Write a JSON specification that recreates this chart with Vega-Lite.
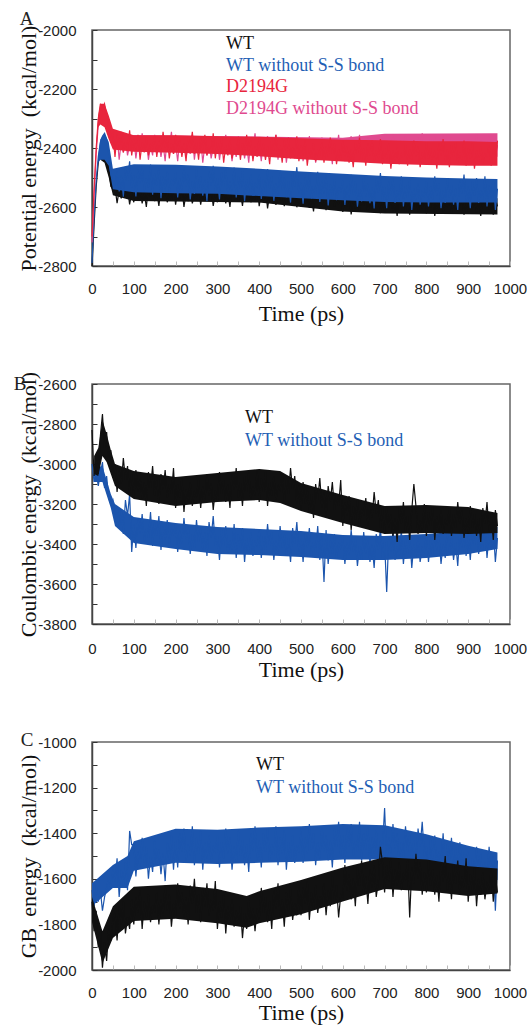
{
"$schema":"https://vega.github.io/schema/vega-lite/v6.json",
"padding":{"left":12,"top":9,"right":5,"bottom":5},
"background":"white",
"config":{
"view":{"stroke":"#666666","strokeWidth":1.5},
"axis":{"labelFont":"Liberation Sans","labelFontSize":15,"labelColor":"#222222","labelOverlap":false,"labelFlush":false,"titleFont":"Liberation Serif","titleFontWeight":"normal","titleColor":"#111111","titleFontSize":22,"grid":false,"domainColor":"#444444","domainWidth":1.5,"tickSize":-5,"tickWidth":1}
},
"datasets":{
"pa":[
{"t":0,"a":-2800,"b":-2790,"c":-2700,"d":-2720},{"t":5,"a":-2660,"b":-2630,"c":-2540,"d":-2560},{"t":10,"a":-2530,"b":-2510,"c":-2400,"d":-2420},{"t":15,"a":-2450,"b":-2430,"c":-2300,"d":-2320},{"t":20,"a":-2400,"b":-2380,"c":-2250,"d":-2270},{"t":25,"a":-2390,"b":-2360,"c":-2270,"d":-2260},{"t":30,"a":-2370,"b":-2350,"c":-2250,"d":-2280},{"t":35,"a":-2400,"b":-2370,"c":-2290,"d":-2300},{"t":40,"a":-2470,"b":-2420,"c":-2330,"d":-2340},{"t":45,"a":-2530,"b":-2490,"c":-2360,"d":-2380},{"t":50,"a":-2540,"b":-2510,"c":-2350,"d":-2370},
{"t":55,"a":-2531,"b":-2523,"c":-2430,"d":-2405},{"t":60,"a":-2587,"b":-2481,"c":-2355,"d":-2355},{"t":65,"a":-2543,"b":-2547,"c":-2395,"d":-2440},{"t":70,"a":-2571,"b":-2493,"c":-2345,"d":-2380},{"t":75,"a":-2519,"b":-2565,"c":-2415,"d":-2415},{"t":80,"a":-2563,"b":-2463,"c":-2380,"d":-2365},{"t":85,"a":-2535,"b":-2511,"c":-2405,"d":-2425},{"t":90,"a":-2591,"b":-2445,"c":-2340,"d":-2390},{"t":95,"a":-2551,"b":-2535,"c":-2425,"d":-2400},
{"t":100,"a":-2584,"b":-2492,"c":-2370,"d":-2365},{"t":105,"a":-2528,"b":-2564,"c":-2405,"d":-2435},{"t":110,"a":-2572,"b":-2474,"c":-2355,"d":-2380},{"t":115,"a":-2544,"b":-2522,"c":-2440,"d":-2415},{"t":120,"a":-2588,"b":-2462,"c":-2380,"d":-2350},{"t":125,"a":-2552,"b":-2546,"c":-2415,"d":-2405},{"t":130,"a":-2600,"b":-2504,"c":-2365,"d":-2370},{"t":135,"a":-2532,"b":-2534,"c":-2425,"d":-2440},{"t":140,"a":-2564,"b":-2456,"c":-2390,"d":-2390},{"t":145,"a":-2520,"b":-2558,"c":-2400,"d":-2425},
{"t":150,"a":-2580,"b":-2486,"c":-2360,"d":-2355},{"t":155,"a":-2548,"b":-2528,"c":-2430,"d":-2410},{"t":160,"a":-2596,"b":-2468,"c":-2375,"d":-2375},{"t":165,"a":-2536,"b":-2570,"c":-2410,"d":-2430},{"t":170,"a":-2568,"b":-2498,"c":-2345,"d":-2385},{"t":175,"a":-2528,"b":-2540,"c":-2400,"d":-2445},{"t":180,"a":-2584,"b":-2480,"c":-2365,"d":-2360},{"t":185,"a":-2556,"b":-2552,"c":-2435,"d":-2400},{"t":190,"a":-2576,"b":-2510,"c":-2385,"d":-2345},{"t":195,"a":-2524,"b":-2522,"c":-2420,"d":-2420},
{"t":200,"a":-2592,"b":-2484,"c":-2355,"d":-2385},{"t":205,"a":-2544,"b":-2568,"c":-2410,"d":-2445},{"t":210,"a":-2572,"b":-2502,"c":-2375,"d":-2370},{"t":215,"a":-2532,"b":-2544,"c":-2430,"d":-2410},{"t":220,"a":-2600,"b":-2466,"c":-2385,"d":-2360},{"t":225,"a":-2552,"b":-2532,"c":-2445,"d":-2430},{"t":230,"a":-2580,"b":-2490,"c":-2360,"d":-2395},{"t":235,"a":-2540,"b":-2574,"c":-2400,"d":-2420},{"t":240,"a":-2588,"b":-2514,"c":-2345,"d":-2355},{"t":245,"a":-2560,"b":-2556,"c":-2420,"d":-2440},
{"t":250,"a":-2568,"b":-2472,"c":-2380,"d":-2380},{"t":255,"a":-2536,"b":-2538,"c":-2440,"d":-2415},{"t":260,"a":-2592,"b":-2496,"c":-2365,"d":-2365},{"t":265,"a":-2548,"b":-2562,"c":-2405,"d":-2450},{"t":270,"a":-2576,"b":-2508,"c":-2355,"d":-2390},{"t":275,"a":-2524,"b":-2580,"c":-2425,"d":-2425},{"t":280,"a":-2568,"b":-2478,"c":-2390,"d":-2375},{"t":285,"a":-2540,"b":-2526,"c":-2415,"d":-2435},{"t":290,"a":-2596,"b":-2460,"c":-2350,"d":-2400},{"t":295,"a":-2556,"b":-2550,"c":-2435,"d":-2410},
{"t":300,"a":-2584,"b":-2502,"c":-2380,"d":-2370},{"t":305,"a":-2528,"b":-2574,"c":-2415,"d":-2440},{"t":310,"a":-2572,"b":-2484,"c":-2365,"d":-2385},{"t":315,"a":-2544,"b":-2532,"c":-2450,"d":-2420},{"t":320,"a":-2588,"b":-2472,"c":-2390,"d":-2355},{"t":325,"a":-2552,"b":-2556,"c":-2425,"d":-2410},{"t":330,"a":-2600,"b":-2514,"c":-2375,"d":-2375},{"t":335,"a":-2532,"b":-2544,"c":-2435,"d":-2445},{"t":340,"a":-2564,"b":-2466,"c":-2400,"d":-2395},{"t":345,"a":-2520,"b":-2568,"c":-2410,"d":-2430},
{"t":350,"a":-2580,"b":-2496,"c":-2370,"d":-2360},{"t":355,"a":-2548,"b":-2538,"c":-2440,"d":-2415},{"t":360,"a":-2596,"b":-2478,"c":-2385,"d":-2380},{"t":365,"a":-2536,"b":-2580,"c":-2420,"d":-2435},{"t":370,"a":-2568,"b":-2508,"c":-2355,"d":-2390},{"t":375,"a":-2528,"b":-2550,"c":-2410,"d":-2450},{"t":380,"a":-2584,"b":-2490,"c":-2375,"d":-2365},{"t":385,"a":-2556,"b":-2562,"c":-2445,"d":-2405},{"t":390,"a":-2576,"b":-2520,"c":-2395,"d":-2350},{"t":395,"a":-2524,"b":-2532,"c":-2430,"d":-2425},
{"t":400,"a":-2597,"b":-2489,"c":-2365,"d":-2385},{"t":405,"a":-2549,"b":-2573,"c":-2420,"d":-2445},{"t":410,"a":-2577,"b":-2507,"c":-2385,"d":-2370},{"t":415,"a":-2537,"b":-2549,"c":-2440,"d":-2410},{"t":420,"a":-2605,"b":-2471,"c":-2395,"d":-2360},{"t":425,"a":-2557,"b":-2537,"c":-2455,"d":-2430},{"t":430,"a":-2585,"b":-2495,"c":-2370,"d":-2395},{"t":435,"a":-2545,"b":-2579,"c":-2410,"d":-2420},{"t":440,"a":-2593,"b":-2519,"c":-2355,"d":-2355},{"t":445,"a":-2565,"b":-2561,"c":-2430,"d":-2440},
{"t":450,"a":-2573,"b":-2477,"c":-2390,"d":-2380},{"t":455,"a":-2541,"b":-2543,"c":-2450,"d":-2415},{"t":460,"a":-2597,"b":-2501,"c":-2375,"d":-2365},{"t":465,"a":-2553,"b":-2567,"c":-2415,"d":-2450},{"t":470,"a":-2581,"b":-2513,"c":-2365,"d":-2390},{"t":475,"a":-2529,"b":-2585,"c":-2435,"d":-2425},{"t":480,"a":-2573,"b":-2483,"c":-2400,"d":-2375},{"t":485,"a":-2545,"b":-2531,"c":-2425,"d":-2435},{"t":490,"a":-2601,"b":-2465,"c":-2360,"d":-2400},{"t":495,"a":-2561,"b":-2555,"c":-2445,"d":-2410},
{"t":500,"a":-2599,"b":-2517,"c":-2390,"d":-2375},{"t":505,"a":-2543,"b":-2589,"c":-2425,"d":-2445},{"t":510,"a":-2587,"b":-2499,"c":-2375,"d":-2390},{"t":515,"a":-2559,"b":-2547,"c":-2460,"d":-2425},{"t":520,"a":-2603,"b":-2487,"c":-2400,"d":-2360},{"t":525,"a":-2567,"b":-2571,"c":-2435,"d":-2415},{"t":530,"a":-2615,"b":-2529,"c":-2385,"d":-2380},{"t":535,"a":-2547,"b":-2559,"c":-2445,"d":-2450},{"t":540,"a":-2579,"b":-2481,"c":-2410,"d":-2400},{"t":545,"a":-2535,"b":-2583,"c":-2420,"d":-2435},
{"t":550,"a":-2595,"b":-2511,"c":-2380,"d":-2365},{"t":555,"a":-2563,"b":-2553,"c":-2450,"d":-2420},{"t":560,"a":-2611,"b":-2493,"c":-2395,"d":-2385},{"t":565,"a":-2551,"b":-2595,"c":-2430,"d":-2440},{"t":570,"a":-2583,"b":-2523,"c":-2365,"d":-2395},{"t":575,"a":-2543,"b":-2565,"c":-2420,"d":-2455},{"t":580,"a":-2599,"b":-2505,"c":-2385,"d":-2370},{"t":585,"a":-2571,"b":-2577,"c":-2455,"d":-2410},{"t":590,"a":-2591,"b":-2535,"c":-2405,"d":-2355},{"t":595,"a":-2539,"b":-2547,"c":-2440,"d":-2430},
{"t":600,"a":-2617,"b":-2509,"c":-2375,"d":-2385},{"t":605,"a":-2569,"b":-2593,"c":-2430,"d":-2445},{"t":610,"a":-2597,"b":-2527,"c":-2395,"d":-2370},{"t":615,"a":-2557,"b":-2569,"c":-2450,"d":-2410},{"t":620,"a":-2625,"b":-2491,"c":-2405,"d":-2360},{"t":625,"a":-2577,"b":-2557,"c":-2465,"d":-2430},{"t":630,"a":-2605,"b":-2515,"c":-2380,"d":-2395},{"t":635,"a":-2565,"b":-2599,"c":-2420,"d":-2420},{"t":640,"a":-2613,"b":-2539,"c":-2365,"d":-2355},{"t":645,"a":-2585,"b":-2581,"c":-2440,"d":-2440},
{"t":650,"a":-2593,"b":-2497,"c":-2400,"d":-2380},{"t":655,"a":-2561,"b":-2563,"c":-2460,"d":-2415},{"t":660,"a":-2617,"b":-2521,"c":-2385,"d":-2365},{"t":665,"a":-2573,"b":-2587,"c":-2425,"d":-2450},{"t":670,"a":-2601,"b":-2533,"c":-2375,"d":-2390},{"t":675,"a":-2549,"b":-2605,"c":-2445,"d":-2425},{"t":680,"a":-2593,"b":-2503,"c":-2410,"d":-2375},{"t":685,"a":-2565,"b":-2551,"c":-2435,"d":-2435},{"t":690,"a":-2621,"b":-2485,"c":-2370,"d":-2400},{"t":695,"a":-2581,"b":-2575,"c":-2455,"d":-2410},
{"t":700,"a":-2614,"b":-2532,"c":-2400,"d":-2370},{"t":705,"a":-2558,"b":-2604,"c":-2435,"d":-2440},{"t":710,"a":-2602,"b":-2514,"c":-2385,"d":-2385},{"t":715,"a":-2574,"b":-2562,"c":-2470,"d":-2420},{"t":720,"a":-2618,"b":-2502,"c":-2410,"d":-2355},{"t":725,"a":-2582,"b":-2586,"c":-2445,"d":-2410},{"t":730,"a":-2630,"b":-2544,"c":-2395,"d":-2375},{"t":735,"a":-2562,"b":-2574,"c":-2455,"d":-2445},{"t":740,"a":-2594,"b":-2496,"c":-2420,"d":-2395},{"t":745,"a":-2550,"b":-2598,"c":-2430,"d":-2430},
{"t":750,"a":-2610,"b":-2526,"c":-2390,"d":-2360},{"t":755,"a":-2578,"b":-2568,"c":-2460,"d":-2415},{"t":760,"a":-2626,"b":-2508,"c":-2405,"d":-2380},{"t":765,"a":-2566,"b":-2610,"c":-2440,"d":-2435},{"t":770,"a":-2598,"b":-2538,"c":-2375,"d":-2390},{"t":775,"a":-2558,"b":-2580,"c":-2430,"d":-2450},{"t":780,"a":-2614,"b":-2520,"c":-2395,"d":-2365},{"t":785,"a":-2586,"b":-2592,"c":-2465,"d":-2405},{"t":790,"a":-2606,"b":-2550,"c":-2415,"d":-2350},{"t":795,"a":-2554,"b":-2562,"c":-2450,"d":-2425},
{"t":800,"a":-2622,"b":-2514,"c":-2380,"d":-2385},{"t":805,"a":-2574,"b":-2598,"c":-2435,"d":-2445},{"t":810,"a":-2602,"b":-2532,"c":-2400,"d":-2370},{"t":815,"a":-2562,"b":-2574,"c":-2455,"d":-2410},{"t":820,"a":-2630,"b":-2496,"c":-2410,"d":-2360},{"t":825,"a":-2582,"b":-2562,"c":-2470,"d":-2430},{"t":830,"a":-2610,"b":-2520,"c":-2385,"d":-2395},{"t":835,"a":-2570,"b":-2604,"c":-2425,"d":-2420},{"t":840,"a":-2618,"b":-2544,"c":-2370,"d":-2355},{"t":845,"a":-2590,"b":-2586,"c":-2445,"d":-2440},
{"t":850,"a":-2598,"b":-2502,"c":-2405,"d":-2380},{"t":855,"a":-2566,"b":-2568,"c":-2465,"d":-2415},{"t":860,"a":-2622,"b":-2526,"c":-2390,"d":-2365},{"t":865,"a":-2578,"b":-2592,"c":-2430,"d":-2450},{"t":870,"a":-2606,"b":-2538,"c":-2380,"d":-2390},{"t":875,"a":-2554,"b":-2610,"c":-2450,"d":-2425},{"t":880,"a":-2598,"b":-2508,"c":-2415,"d":-2375},{"t":885,"a":-2570,"b":-2556,"c":-2440,"d":-2435},{"t":890,"a":-2626,"b":-2490,"c":-2375,"d":-2400},{"t":895,"a":-2586,"b":-2580,"c":-2460,"d":-2410},
{"t":900,"a":-2614,"b":-2532,"c":-2400,"d":-2370},{"t":905,"a":-2558,"b":-2604,"c":-2435,"d":-2440},{"t":910,"a":-2602,"b":-2514,"c":-2385,"d":-2385},{"t":915,"a":-2574,"b":-2562,"c":-2470,"d":-2420},{"t":920,"a":-2618,"b":-2502,"c":-2410,"d":-2355},{"t":925,"a":-2582,"b":-2586,"c":-2445,"d":-2410},{"t":930,"a":-2630,"b":-2544,"c":-2395,"d":-2375},{"t":935,"a":-2562,"b":-2574,"c":-2455,"d":-2445},{"t":940,"a":-2594,"b":-2496,"c":-2420,"d":-2395},{"t":945,"a":-2550,"b":-2598,"c":-2430,"d":-2430},
{"t":950,"a":-2610,"b":-2526,"c":-2390,"d":-2360},{"t":955,"a":-2578,"b":-2568,"c":-2460,"d":-2415},{"t":960,"a":-2626,"b":-2508,"c":-2405,"d":-2380},{"t":965,"a":-2566,"b":-2610,"c":-2440,"d":-2435},{"t":970,"a":-2598,"b":-2538,"c":-2375,"d":-2390}
],
"ea":[
{"s":"a","t":20,"e":-2440,"e2":-2400},{"s":"a","t":30,"e":-2450,"e2":-2380},{"s":"a","t":40,"e":-2500,"e2":-2440},{"s":"a","t":50,"e":-2560,"e2":-2520},{"s":"a","t":100,"e":-2580,"e2":-2530},{"s":"a","t":400,"e":-2585,"e2":-2540},{"s":"a","t":500,"e":-2600,"e2":-2550},{"s":"a","t":600,"e":-2615,"e2":-2560},{"s":"a","t":700,"e":-2622,"e2":-2570},{"s":"a","t":970,"e":-2625,"e2":-2570},
{"s":"b","t":15,"e":-2450,"e2":-2425},{"s":"b","t":20,"e":-2440,"e2":-2370},{"s":"b","t":30,"e":-2440,"e2":-2350},{"s":"b","t":40,"e":-2460,"e2":-2380},{"s":"b","t":50,"e":-2540,"e2":-2470},{"s":"b","t":100,"e":-2550,"e2":-2455},{"s":"b","t":200,"e":-2553,"e2":-2457},{"s":"b","t":300,"e":-2555,"e2":-2463},{"s":"b","t":400,"e":-2563,"e2":-2470},{"s":"b","t":500,"e":-2570,"e2":-2480},{"s":"b","t":600,"e":-2577,"e2":-2487},{"s":"b","t":700,"e":-2583,"e2":-2495},{"s":"b","t":800,"e":-2585,"e2":-2500},{"s":"b","t":900,"e":-2585,"e2":-2503},{"s":"b","t":970,"e":-2585,"e2":-2505},
{"s":"c","t":10,"e":-2420,"e2":-2390},{"s":"c","t":15,"e":-2330,"e2":-2290},{"s":"c","t":20,"e":-2320,"e2":-2250},{"s":"c","t":30,"e":-2330,"e2":-2250},{"s":"c","t":40,"e":-2370,"e2":-2290},{"s":"c","t":50,"e":-2405,"e2":-2335},{"s":"c","t":100,"e":-2413,"e2":-2357},{"s":"c","t":200,"e":-2416,"e2":-2357},{"s":"c","t":300,"e":-2420,"e2":-2360},{"s":"c","t":400,"e":-2428,"e2":-2362},{"s":"c","t":500,"e":-2438,"e2":-2367},{"s":"c","t":600,"e":-2446,"e2":-2372},{"s":"c","t":700,"e":-2453,"e2":-2374},{"s":"c","t":800,"e":-2458,"e2":-2377},{"s":"c","t":900,"e":-2460,"e2":-2377},{"s":"c","t":970,"e":-2460,"e2":-2380},
{"s":"d","t":50,"e":-2400,"e2":-2355},{"s":"d","t":600,"e":-2430,"e2":-2365},{"s":"d","t":700,"e":-2430,"e2":-2352},{"s":"d","t":970,"e":-2430,"e2":-2350}
],
"pb":[
{"t":0,"a":-2830,"b":-3000},{"t":5,"a":-3060,"b":-3090},{"t":10,"a":-2950,"b":-3040},{"t":15,"a":-3050,"b":-3110},{"t":20,"a":-2860,"b":-3050},{"t":25,"a":-2750,"b":-2990},{"t":30,"a":-2920,"b":-3120},{"t":35,"a":-2840,"b":-3060},{"t":40,"a":-3000,"b":-3170},{"t":45,"a":-2930,"b":-3200},{"t":50,"a":-3070,"b":-3180},
{"t":55,"a":-3000,"b":-3280},{"t":60,"a":-3140,"b":-3210},{"t":65,"a":-3030,"b":-3320},{"t":70,"a":-3100,"b":-3230},{"t":75,"a":-2970,"b":-3350},{"t":80,"a":-3080,"b":-3180},{"t":85,"a":-3010,"b":-3260},{"t":90,"a":-3150,"b":-3150},{"t":95,"a":-3050,"b":-3440},
{"t":100,"a":-3170,"b":-3300},{"t":105,"a":-3030,"b":-3420},{"t":110,"a":-3140,"b":-3270},{"t":115,"a":-3070,"b":-3350},{"t":120,"a":-3180,"b":-3250},{"t":125,"a":-3090,"b":-3390},{"t":130,"a":-3210,"b":-3320},{"t":135,"a":-3040,"b":-3370},{"t":140,"a":-3120,"b":-3240},{"t":145,"a":-3010,"b":-3410},
{"t":150,"a":-3160,"b":-3290},{"t":155,"a":-3080,"b":-3360},{"t":160,"a":-3200,"b":-3260},{"t":165,"a":-3050,"b":-3430},{"t":170,"a":-3130,"b":-3310},{"t":175,"a":-3030,"b":-3380},{"t":180,"a":-3170,"b":-3280},{"t":185,"a":-3100,"b":-3400},{"t":190,"a":-3150,"b":-3330},{"t":195,"a":-3020,"b":-3350},
{"t":200,"a":-3220,"b":-3300},{"t":205,"a":-3100,"b":-3440},{"t":210,"a":-3170,"b":-3330},{"t":215,"a":-3070,"b":-3400},{"t":220,"a":-3240,"b":-3270},{"t":225,"a":-3120,"b":-3380},{"t":230,"a":-3190,"b":-3310},{"t":235,"a":-3090,"b":-3450},{"t":240,"a":-3210,"b":-3350},{"t":245,"a":-3140,"b":-3420},
{"t":250,"a":-3160,"b":-3280},{"t":255,"a":-3080,"b":-3390},{"t":260,"a":-3220,"b":-3320},{"t":265,"a":-3110,"b":-3430},{"t":270,"a":-3180,"b":-3340},{"t":275,"a":-3050,"b":-3460},{"t":280,"a":-3160,"b":-3290},{"t":285,"a":-3090,"b":-3370},{"t":290,"a":-3230,"b":-3260},{"t":295,"a":-3130,"b":-3410},
{"t":300,"a":-3180,"b":-3360},{"t":305,"a":-3040,"b":-3480},{"t":310,"a":-3150,"b":-3330},{"t":315,"a":-3080,"b":-3410},{"t":320,"a":-3190,"b":-3310},{"t":325,"a":-3100,"b":-3450},{"t":330,"a":-3220,"b":-3380},{"t":335,"a":-3050,"b":-3430},{"t":340,"a":-3130,"b":-3300},{"t":345,"a":-3020,"b":-3470},
{"t":350,"a":-3170,"b":-3350},{"t":355,"a":-3090,"b":-3420},{"t":360,"a":-3210,"b":-3320},{"t":365,"a":-3060,"b":-3490},{"t":370,"a":-3140,"b":-3370},{"t":375,"a":-3040,"b":-3440},{"t":380,"a":-3180,"b":-3340},{"t":385,"a":-3110,"b":-3460},{"t":390,"a":-3160,"b":-3390},{"t":395,"a":-3030,"b":-3410},
{"t":400,"a":-3190,"b":-3330},{"t":405,"a":-3070,"b":-3470},{"t":410,"a":-3140,"b":-3360},{"t":415,"a":-3040,"b":-3430},{"t":420,"a":-3210,"b":-3300},{"t":425,"a":-3090,"b":-3410},{"t":430,"a":-3160,"b":-3340},{"t":435,"a":-3060,"b":-3480},{"t":440,"a":-3180,"b":-3380},{"t":445,"a":-3110,"b":-3450},
{"t":450,"a":-3130,"b":-3310},{"t":455,"a":-3050,"b":-3420},{"t":460,"a":-3190,"b":-3350},{"t":465,"a":-3080,"b":-3460},{"t":470,"a":-3150,"b":-3370},{"t":475,"a":-3020,"b":-3490},{"t":480,"a":-3130,"b":-3320},{"t":485,"a":-3060,"b":-3400},{"t":490,"a":-3200,"b":-3290},{"t":495,"a":-3100,"b":-3440},
{"t":500,"a":-3230,"b":-3370},{"t":505,"a":-3090,"b":-3490},{"t":510,"a":-3200,"b":-3340},{"t":515,"a":-3130,"b":-3420},{"t":520,"a":-3240,"b":-3320},{"t":525,"a":-3150,"b":-3460},{"t":530,"a":-3270,"b":-3390},{"t":535,"a":-3100,"b":-3440},{"t":540,"a":-3180,"b":-3310},{"t":545,"a":-3070,"b":-3480},
{"t":550,"a":-3220,"b":-3360},{"t":555,"a":-3140,"b":-3590},{"t":560,"a":-3260,"b":-3330},{"t":565,"a":-3110,"b":-3500},{"t":570,"a":-3190,"b":-3380},{"t":575,"a":-3090,"b":-3450},{"t":580,"a":-3230,"b":-3350},{"t":585,"a":-3160,"b":-3470},{"t":590,"a":-3210,"b":-3400},{"t":595,"a":-3080,"b":-3420},
{"t":600,"a":-3310,"b":-3360},{"t":605,"a":-3190,"b":-3500},{"t":610,"a":-3260,"b":-3390},{"t":615,"a":-3160,"b":-3460},{"t":620,"a":-3330,"b":-3330},{"t":625,"a":-3210,"b":-3440},{"t":630,"a":-3280,"b":-3370},{"t":635,"a":-3180,"b":-3510},{"t":640,"a":-3300,"b":-3410},{"t":645,"a":-3230,"b":-3480},
{"t":650,"a":-3250,"b":-3340},{"t":655,"a":-3170,"b":-3450},{"t":660,"a":-3310,"b":-3380},{"t":665,"a":-3200,"b":-3490},{"t":670,"a":-3270,"b":-3400},{"t":675,"a":-3140,"b":-3520},{"t":680,"a":-3250,"b":-3350},{"t":685,"a":-3180,"b":-3430},{"t":690,"a":-3320,"b":-3320},{"t":695,"a":-3220,"b":-3470},
{"t":700,"a":-3350,"b":-3390},{"t":705,"a":-3210,"b":-3640},{"t":710,"a":-3320,"b":-3360},{"t":715,"a":-3250,"b":-3440},{"t":720,"a":-3360,"b":-3340},{"t":725,"a":-3270,"b":-3480},{"t":730,"a":-3390,"b":-3410},{"t":735,"a":-3220,"b":-3460},{"t":740,"a":-3300,"b":-3330},{"t":745,"a":-3190,"b":-3500},
{"t":750,"a":-3340,"b":-3380},{"t":755,"a":-3260,"b":-3450},{"t":760,"a":-3380,"b":-3350},{"t":765,"a":-3230,"b":-3520},{"t":770,"a":-3100,"b":-3400},{"t":775,"a":-3210,"b":-3470},{"t":780,"a":-3350,"b":-3370},{"t":785,"a":-3280,"b":-3490},{"t":790,"a":-3330,"b":-3420},{"t":795,"a":-3200,"b":-3440},
{"t":800,"a":-3360,"b":-3350},{"t":805,"a":-3240,"b":-3490},{"t":810,"a":-3310,"b":-3380},{"t":815,"a":-3210,"b":-3450},{"t":820,"a":-3380,"b":-3320},{"t":825,"a":-3260,"b":-3430},{"t":830,"a":-3330,"b":-3360},{"t":835,"a":-3230,"b":-3500},{"t":840,"a":-3350,"b":-3400},{"t":845,"a":-3280,"b":-3470},
{"t":850,"a":-3300,"b":-3330},{"t":855,"a":-3220,"b":-3440},{"t":860,"a":-3360,"b":-3370},{"t":865,"a":-3250,"b":-3480},{"t":870,"a":-3320,"b":-3390},{"t":875,"a":-3190,"b":-3510},{"t":880,"a":-3300,"b":-3340},{"t":885,"a":-3230,"b":-3420},{"t":890,"a":-3370,"b":-3310},{"t":895,"a":-3270,"b":-3460},
{"t":900,"a":-3350,"b":-3360},{"t":905,"a":-3210,"b":-3480},{"t":910,"a":-3320,"b":-3330},{"t":915,"a":-3250,"b":-3410},{"t":920,"a":-3360,"b":-3310},{"t":925,"a":-3270,"b":-3450},{"t":930,"a":-3390,"b":-3380},{"t":935,"a":-3220,"b":-3430},{"t":940,"a":-3300,"b":-3300},{"t":945,"a":-3190,"b":-3470},
{"t":950,"a":-3340,"b":-3350},{"t":955,"a":-3260,"b":-3420},{"t":960,"a":-3380,"b":-3320},{"t":965,"a":-3230,"b":-3490},{"t":970,"a":-3310,"b":-3370}
],
"eb":[
{"s":"a","t":5,"e":-3050,"e2":-2960},{"s":"a","t":15,"e":-3060,"e2":-2920},{"s":"a","t":25,"e":-2960,"e2":-2780},{"s":"a","t":35,"e":-2990,"e2":-2850},{"s":"a","t":45,"e":-3050,"e2":-2930},{"s":"a","t":55,"e":-3110,"e2":-3000},{"s":"a","t":100,"e":-3175,"e2":-3035},{"s":"a","t":200,"e":-3210,"e2":-3065},{"s":"a","t":300,"e":-3190,"e2":-3045},{"s":"a","t":400,"e":-3180,"e2":-3025},{"s":"a","t":450,"e":-3195,"e2":-3035},{"s":"a","t":500,"e":-3235,"e2":-3095},{"s":"a","t":600,"e":-3295,"e2":-3155},{"s":"a","t":700,"e":-3350,"e2":-3210},{"s":"a","t":800,"e":-3345,"e2":-3205},{"s":"a","t":900,"e":-3350,"e2":-3215},{"s":"a","t":970,"e":-3345,"e2":-3245},
{"s":"b","t":5,"e":-3090,"e2":-3020},{"s":"b","t":25,"e":-3090,"e2":-3010},{"s":"b","t":45,"e":-3220,"e2":-3150},{"s":"b","t":55,"e":-3310,"e2":-3200},{"s":"b","t":100,"e":-3395,"e2":-3265},{"s":"b","t":200,"e":-3425,"e2":-3295},{"s":"b","t":300,"e":-3450,"e2":-3315},{"s":"b","t":400,"e":-3455,"e2":-3325},{"s":"b","t":500,"e":-3465,"e2":-3335},{"s":"b","t":600,"e":-3480,"e2":-3355},{"s":"b","t":700,"e":-3480,"e2":-3360},{"s":"b","t":800,"e":-3470,"e2":-3350},{"s":"b","t":900,"e":-3450,"e2":-3335},{"s":"b","t":970,"e":-3425,"e2":-3315}
],
"pc":[
{"t":0,"a":-1700,"b":-1650},{"t":5,"a":-1830,"b":-1720},{"t":10,"a":-1740,"b":-1630},{"t":15,"a":-1900,"b":-1700},{"t":20,"a":-1830,"b":-1650},{"t":25,"a":-1990,"b":-1740},{"t":30,"a":-1880,"b":-1680},{"t":35,"a":-1960,"b":-1640},{"t":40,"a":-1820,"b":-1590},{"t":45,"a":-1870,"b":-1640},{"t":50,"a":-1780,"b":-1560},
{"t":55,"a":-1750,"b":-1610},{"t":60,"a":-1870,"b":-1510},{"t":65,"a":-1720,"b":-1680},{"t":70,"a":-1800,"b":-1560},{"t":75,"a":-1700,"b":-1630},{"t":80,"a":-1840,"b":-1530},{"t":85,"a":-1770,"b":-1650},{"t":90,"a":-1820,"b":-1390},{"t":95,"a":-1690,"b":-1450},
{"t":100,"a":-1800,"b":-1450},{"t":105,"a":-1680,"b":-1590},{"t":110,"a":-1750,"b":-1480},{"t":115,"a":-1650,"b":-1550},{"t":120,"a":-1820,"b":-1420},{"t":125,"a":-1700,"b":-1530},{"t":130,"a":-1770,"b":-1460},{"t":135,"a":-1670,"b":-1600},{"t":140,"a":-1790,"b":-1500},{"t":145,"a":-1720,"b":-1570},
{"t":150,"a":-1740,"b":-1430},{"t":155,"a":-1660,"b":-1540},{"t":160,"a":-1800,"b":-1470},{"t":165,"a":-1690,"b":-1580},{"t":170,"a":-1760,"b":-1490},{"t":175,"a":-1630,"b":-1610},{"t":180,"a":-1740,"b":-1440},{"t":185,"a":-1670,"b":-1520},{"t":190,"a":-1810,"b":-1410},{"t":195,"a":-1710,"b":-1560},
{"t":200,"a":-1760,"b":-1430},{"t":205,"a":-1620,"b":-1550},{"t":210,"a":-1730,"b":-1400},{"t":215,"a":-1660,"b":-1480},{"t":220,"a":-1770,"b":-1380},{"t":225,"a":-1680,"b":-1520},{"t":230,"a":-1800,"b":-1450},{"t":235,"a":-1630,"b":-1500},{"t":240,"a":-1710,"b":-1370},{"t":245,"a":-1600,"b":-1540},
{"t":250,"a":-1750,"b":-1420},{"t":255,"a":-1670,"b":-1490},{"t":260,"a":-1790,"b":-1390},{"t":265,"a":-1640,"b":-1560},{"t":270,"a":-1720,"b":-1440},{"t":275,"a":-1620,"b":-1510},{"t":280,"a":-1760,"b":-1410},{"t":285,"a":-1690,"b":-1530},{"t":290,"a":-1740,"b":-1460},{"t":295,"a":-1610,"b":-1480},
{"t":300,"a":-1820,"b":-1410},{"t":305,"a":-1700,"b":-1550},{"t":310,"a":-1770,"b":-1440},{"t":315,"a":-1670,"b":-1510},{"t":320,"a":-1840,"b":-1380},{"t":325,"a":-1720,"b":-1490},{"t":330,"a":-1790,"b":-1420},{"t":335,"a":-1690,"b":-1560},{"t":340,"a":-1810,"b":-1460},{"t":345,"a":-1740,"b":-1530},
{"t":350,"a":-1800,"b":-1390},{"t":355,"a":-1720,"b":-1500},{"t":360,"a":-1860,"b":-1430},{"t":365,"a":-1750,"b":-1540},{"t":370,"a":-1820,"b":-1450},{"t":375,"a":-1690,"b":-1570},{"t":380,"a":-1800,"b":-1400},{"t":385,"a":-1730,"b":-1480},{"t":390,"a":-1830,"b":-1370},{"t":395,"a":-1730,"b":-1520},
{"t":400,"a":-1780,"b":-1430},{"t":405,"a":-1640,"b":-1550},{"t":410,"a":-1750,"b":-1400},{"t":415,"a":-1680,"b":-1480},{"t":420,"a":-1790,"b":-1380},{"t":425,"a":-1700,"b":-1520},{"t":430,"a":-1820,"b":-1450},{"t":435,"a":-1650,"b":-1500},{"t":440,"a":-1730,"b":-1370},{"t":445,"a":-1620,"b":-1540},
{"t":450,"a":-1770,"b":-1420},{"t":455,"a":-1690,"b":-1490},{"t":460,"a":-1810,"b":-1390},{"t":465,"a":-1660,"b":-1560},{"t":470,"a":-1740,"b":-1440},{"t":475,"a":-1640,"b":-1510},{"t":480,"a":-1780,"b":-1410},{"t":485,"a":-1710,"b":-1530},{"t":490,"a":-1760,"b":-1460},{"t":495,"a":-1630,"b":-1480},
{"t":500,"a":-1760,"b":-1390},{"t":505,"a":-1640,"b":-1530},{"t":510,"a":-1710,"b":-1420},{"t":515,"a":-1610,"b":-1490},{"t":520,"a":-1780,"b":-1360},{"t":525,"a":-1660,"b":-1470},{"t":530,"a":-1730,"b":-1400},{"t":535,"a":-1630,"b":-1540},{"t":540,"a":-1750,"b":-1440},{"t":545,"a":-1680,"b":-1510},
{"t":550,"a":-1700,"b":-1370},{"t":555,"a":-1620,"b":-1480},{"t":560,"a":-1760,"b":-1410},{"t":565,"a":-1650,"b":-1520},{"t":570,"a":-1720,"b":-1430},{"t":575,"a":-1590,"b":-1550},{"t":580,"a":-1700,"b":-1380},{"t":585,"a":-1630,"b":-1460},{"t":590,"a":-1770,"b":-1350},{"t":595,"a":-1670,"b":-1500},
{"t":600,"a":-1680,"b":-1410},{"t":605,"a":-1540,"b":-1530},{"t":610,"a":-1650,"b":-1380},{"t":615,"a":-1580,"b":-1460},{"t":620,"a":-1690,"b":-1360},{"t":625,"a":-1600,"b":-1500},{"t":630,"a":-1720,"b":-1430},{"t":635,"a":-1550,"b":-1480},{"t":640,"a":-1630,"b":-1350},{"t":645,"a":-1520,"b":-1520},
{"t":650,"a":-1670,"b":-1400},{"t":655,"a":-1590,"b":-1470},{"t":660,"a":-1710,"b":-1370},{"t":665,"a":-1560,"b":-1540},{"t":670,"a":-1640,"b":-1420},{"t":675,"a":-1540,"b":-1490},{"t":680,"a":-1680,"b":-1390},{"t":685,"a":-1610,"b":-1510},{"t":690,"a":-1460,"b":-1440},{"t":695,"a":-1530,"b":-1460},
{"t":700,"a":-1660,"b":-1290},{"t":705,"a":-1540,"b":-1530},{"t":710,"a":-1610,"b":-1420},{"t":715,"a":-1510,"b":-1490},{"t":720,"a":-1680,"b":-1360},{"t":725,"a":-1560,"b":-1470},{"t":730,"a":-1630,"b":-1400},{"t":735,"a":-1530,"b":-1540},{"t":740,"a":-1650,"b":-1440},{"t":745,"a":-1580,"b":-1510},
{"t":750,"a":-1600,"b":-1370},{"t":755,"a":-1520,"b":-1480},{"t":760,"a":-1770,"b":-1410},{"t":765,"a":-1550,"b":-1520},{"t":770,"a":-1620,"b":-1430},{"t":775,"a":-1490,"b":-1550},{"t":780,"a":-1600,"b":-1380},{"t":785,"a":-1530,"b":-1460},{"t":790,"a":-1670,"b":-1350},{"t":795,"a":-1570,"b":-1500},
{"t":800,"a":-1660,"b":-1460},{"t":805,"a":-1520,"b":-1580},{"t":810,"a":-1630,"b":-1430},{"t":815,"a":-1560,"b":-1510},{"t":820,"a":-1670,"b":-1410},{"t":825,"a":-1580,"b":-1550},{"t":830,"a":-1700,"b":-1480},{"t":835,"a":-1530,"b":-1530},{"t":840,"a":-1610,"b":-1400},{"t":845,"a":-1500,"b":-1570},
{"t":850,"a":-1650,"b":-1450},{"t":855,"a":-1570,"b":-1520},{"t":860,"a":-1690,"b":-1420},{"t":865,"a":-1540,"b":-1590},{"t":870,"a":-1620,"b":-1470},{"t":875,"a":-1520,"b":-1540},{"t":880,"a":-1660,"b":-1440},{"t":885,"a":-1590,"b":-1560},{"t":890,"a":-1640,"b":-1490},{"t":895,"a":-1510,"b":-1510},
{"t":900,"a":-1700,"b":-1480},{"t":905,"a":-1580,"b":-1620},{"t":910,"a":-1650,"b":-1510},{"t":915,"a":-1550,"b":-1580},{"t":920,"a":-1720,"b":-1460},{"t":925,"a":-1600,"b":-1560},{"t":930,"a":-1670,"b":-1490},{"t":935,"a":-1570,"b":-1630},{"t":940,"a":-1690,"b":-1530},{"t":945,"a":-1620,"b":-1600},
{"t":950,"a":-1640,"b":-1460},{"t":955,"a":-1560,"b":-1570},{"t":960,"a":-1700,"b":-1500},{"t":965,"a":-1590,"b":-1740},{"t":970,"a":-1660,"b":-1520}
],
"ec":[
{"s":"b","t":0,"e":-1720,"e2":-1620},{"s":"b","t":50,"e":-1640,"e2":-1540},{"s":"b","t":85,"e":-1640,"e2":-1500},{"s":"b","t":100,"e":-1565,"e2":-1435},{"s":"b","t":200,"e":-1530,"e2":-1380},{"s":"b","t":300,"e":-1535,"e2":-1385},{"s":"b","t":400,"e":-1530,"e2":-1375},{"s":"b","t":500,"e":-1525,"e2":-1370},{"s":"b","t":600,"e":-1515,"e2":-1360},{"s":"b","t":700,"e":-1515,"e2":-1365},{"s":"b","t":800,"e":-1545,"e2":-1405},{"s":"b","t":900,"e":-1585,"e2":-1455},{"s":"b","t":970,"e":-1605,"e2":-1485},
{"s":"a","t":0,"e":-1790,"e2":-1680},{"s":"a","t":25,"e":-1970,"e2":-1830},{"s":"a","t":50,"e":-1860,"e2":-1720},{"s":"a","t":100,"e":-1785,"e2":-1635},{"s":"a","t":200,"e":-1775,"e2":-1625},{"s":"a","t":300,"e":-1795,"e2":-1645},{"s":"a","t":370,"e":-1815,"e2":-1675},{"s":"a","t":400,"e":-1795,"e2":-1655},{"s":"a","t":500,"e":-1755,"e2":-1605},{"s":"a","t":600,"e":-1700,"e2":-1550},{"s":"a","t":700,"e":-1645,"e2":-1505},{"s":"a","t":800,"e":-1655,"e2":-1515},{"s":"a","t":900,"e":-1675,"e2":-1545},{"s":"a","t":970,"e":-1665,"e2":-1555}
]
},
"spacing":118,
"bounds":"flush",
"resolve":{"scale":{"color":"independent"},"legend":{"color":"independent"}},
"vconcat":[
{
"width":418,"height":236,
"title":{"text":"A","anchor":"start","frame":"bounds","dx":2,"offset":-6,"font":"Liberation Serif","fontSize":19,"fontWeight":"normal","color":"#222222"},
"encoding":{
"x":{"field":"t","type":"quantitative","scale":{"domain":[0,1000],"nice":false},"axis":{"title":"Time (ps)","values":[0,50,100,150,200,250,300,350,400,450,500,550,600,650,700,750,800,850,900,950,1000],"labelExpr":"datum.value % 100 == 0 ? '' + datum.value : ''","tickColor":"#bbbbbb","labelPadding":20,"titlePadding":7}},
"y":{"field":"e","type":"quantitative","scale":{"domain":[-2800,-2000],"nice":false,"zero":false},"axis":{"title":"Potential energy\u00a0\u00a0(kcal/mol)","values":[-2800,-2700,-2600,-2500,-2400,-2300,-2200,-2100,-2000],"labelExpr":"datum.value % 200 == 0 ? '' + datum.value : ''","tickColor":"#333333","labelPadding":21,"titlePadding":-3}},
"color":{"field":"s","type":"nominal","scale":{"domain":["a","b","c","d"],"range":["#111111","#1c55ad","#e8253d","#e04a8f"]},"legend":{"orient":"none","legendX":116,"legendY":5,"title":null,"symbolSize":0,"symbolStrokeWidth":0,"symbolOpacity":0,"labelOffset":0,"labelFont":"Liberation Serif","labelFontSize":18,"labelLimit":400,"rowPadding":3.5,"labelExpr":"datum.value == 'a' ? 'WT' : datum.value == 'b' ? 'WT without S-S bond' : datum.value == 'c' ? 'D2194G' : 'D2194G without S-S bond'","labelColor":{"expr":"datum.value == 'a' ? '#111111' : datum.value == 'b' ? '#1f5fb5' : datum.value == 'c' ? '#e8253d' : '#e04a8f'"}}}
},
"layer":[
{"data":{"name":"ea"},"transform":[{"filter":"datum.s == 'a'"}],"mark":{"type":"area","opacity":1},"encoding":{"y2":{"field":"e2"}}},
{"data":{"name":"pa"},"transform":[{"fold":["a"],"as":["s","e"]}],"mark":{"type":"line","strokeWidth":1.2}},
{"data":{"name":"ea"},"transform":[{"filter":"datum.s == 'b'"}],"mark":{"type":"area","opacity":1},"encoding":{"y2":{"field":"e2"}}},
{"data":{"name":"pa"},"transform":[{"fold":["b"],"as":["s","e"]}],"mark":{"type":"line","strokeWidth":1.2}},
{"data":{"name":"ea"},"transform":[{"filter":"datum.s == 'd'"}],"mark":{"type":"area","opacity":1},"encoding":{"y2":{"field":"e2"}}},
{"data":{"name":"pa"},"transform":[{"fold":["d"],"as":["s","e"]}],"mark":{"type":"line","strokeWidth":1.2}},
{"data":{"name":"ea"},"transform":[{"filter":"datum.s == 'c'"}],"mark":{"type":"area","opacity":1},"encoding":{"y2":{"field":"e2"}}},
{"data":{"name":"pa"},"transform":[{"fold":["c"],"as":["s","e"]}],"mark":{"type":"line","strokeWidth":1.2}}
]
},
{
"width":418,"height":240,
"title":{"text":"B","anchor":"start","frame":"bounds","dx":-4,"offset":-23,"font":"Liberation Serif","fontSize":19,"fontWeight":"normal","color":"#222222"},
"encoding":{
"x":{"field":"t","type":"quantitative","scale":{"domain":[0,1000],"nice":false},"axis":{"title":"Time (ps)","values":[0,50,100,150,200,250,300,350,400,450,500,550,600,650,700,750,800,850,900,950,1000],"labelExpr":"datum.value % 100 == 0 ? '' + datum.value : ''","tickColor":"#bbbbbb","labelPadding":22,"titlePadding":3}},
"y":{"field":"e","type":"quantitative","scale":{"domain":[-3800,-2600],"nice":false,"zero":false},"axis":{"title":"Coulombic energy\u00a0\u00a0(kcal/mol)","values":[-3800,-3700,-3600,-3500,-3400,-3300,-3200,-3100,-3000,-2900,-2800,-2700,-2600],"labelExpr":"datum.value % 200 == 0 ? '' + datum.value : ''","tickColor":"#333333","labelPadding":21,"titlePadding":-3}},
"color":{"field":"s","type":"nominal","scale":{"domain":["a","b"],"range":["#111111","#1c55ad"]},"legend":{"orient":"none","legendX":135,"legendY":25,"title":null,"symbolSize":0,"symbolStrokeWidth":0,"symbolOpacity":0,"labelOffset":0,"labelFont":"Liberation Serif","labelFontSize":18,"labelLimit":400,"rowPadding":4.5,"labelExpr":"datum.value == 'a' ? 'WT' : 'WT without S-S bond'","labelColor":{"expr":"datum.value == 'a' ? '#111111' : '#1f5fb5'"}}}
},
"layer":[
{"data":{"name":"eb"},"transform":[{"filter":"datum.s == 'b'"}],"mark":{"type":"area","opacity":1},"encoding":{"y2":{"field":"e2"}}},
{"data":{"name":"pb"},"transform":[{"fold":["b"],"as":["s","e"]}],"mark":{"type":"line","strokeWidth":1.2}},
{"data":{"name":"eb"},"transform":[{"filter":"datum.s == 'a'"}],"mark":{"type":"area","opacity":1},"encoding":{"y2":{"field":"e2"}}},
{"data":{"name":"pb"},"transform":[{"fold":["a"],"as":["s","e"]}],"mark":{"type":"line","strokeWidth":1.2}}
]
},
{
"width":418,"height":228,
"title":{"text":"C","anchor":"start","frame":"bounds","dx":3,"offset":-15,"font":"Liberation Serif","fontSize":19,"fontWeight":"normal","color":"#222222"},
"encoding":{
"x":{"field":"t","type":"quantitative","scale":{"domain":[0,1000],"nice":false},"axis":{"title":"Time (ps)","values":[0,50,100,150,200,250,300,350,400,450,500,550,600,650,700,750,800,850,900,950,1000],"labelExpr":"datum.value % 100 == 0 ? '' + datum.value : ''","tickColor":"#bbbbbb","labelPadding":20,"titlePadding":2}},
"y":{"field":"e","type":"quantitative","scale":{"domain":[-2000,-1000],"nice":false,"zero":false},"axis":{"title":"GB\u00a0\u00a0energy\u00a0\u00a0(kcal/mol)","values":[-2000,-1900,-1800,-1700,-1600,-1500,-1400,-1300,-1200,-1100,-1000],"labelExpr":"datum.value % 200 == 0 ? '' + datum.value : ''","tickColor":"#333333","labelPadding":21,"titlePadding":-3}},
"color":{"field":"s","type":"nominal","scale":{"domain":["a","b"],"range":["#111111","#1c55ad"]},"legend":{"orient":"none","legendX":146,"legendY":14,"title":null,"symbolSize":0,"symbolStrokeWidth":0,"symbolOpacity":0,"labelOffset":0,"labelFont":"Liberation Serif","labelFontSize":18,"labelLimit":400,"rowPadding":4.5,"labelExpr":"datum.value == 'a' ? 'WT' : 'WT without S-S bond'","labelColor":{"expr":"datum.value == 'a' ? '#111111' : '#1f5fb5'"}}}
},
"layer":[
{"data":{"name":"ec"},"transform":[{"filter":"datum.s == 'b'"}],"mark":{"type":"area","opacity":1},"encoding":{"y2":{"field":"e2"}}},
{"data":{"name":"pc"},"transform":[{"fold":["b"],"as":["s","e"]}],"mark":{"type":"line","strokeWidth":1.2}},
{"data":{"name":"ec"},"transform":[{"filter":"datum.s == 'a'"}],"mark":{"type":"area","opacity":1},"encoding":{"y2":{"field":"e2"}}},
{"data":{"name":"pc"},"transform":[{"fold":["a"],"as":["s","e"]}],"mark":{"type":"line","strokeWidth":1.2}}
]
}
]
}
